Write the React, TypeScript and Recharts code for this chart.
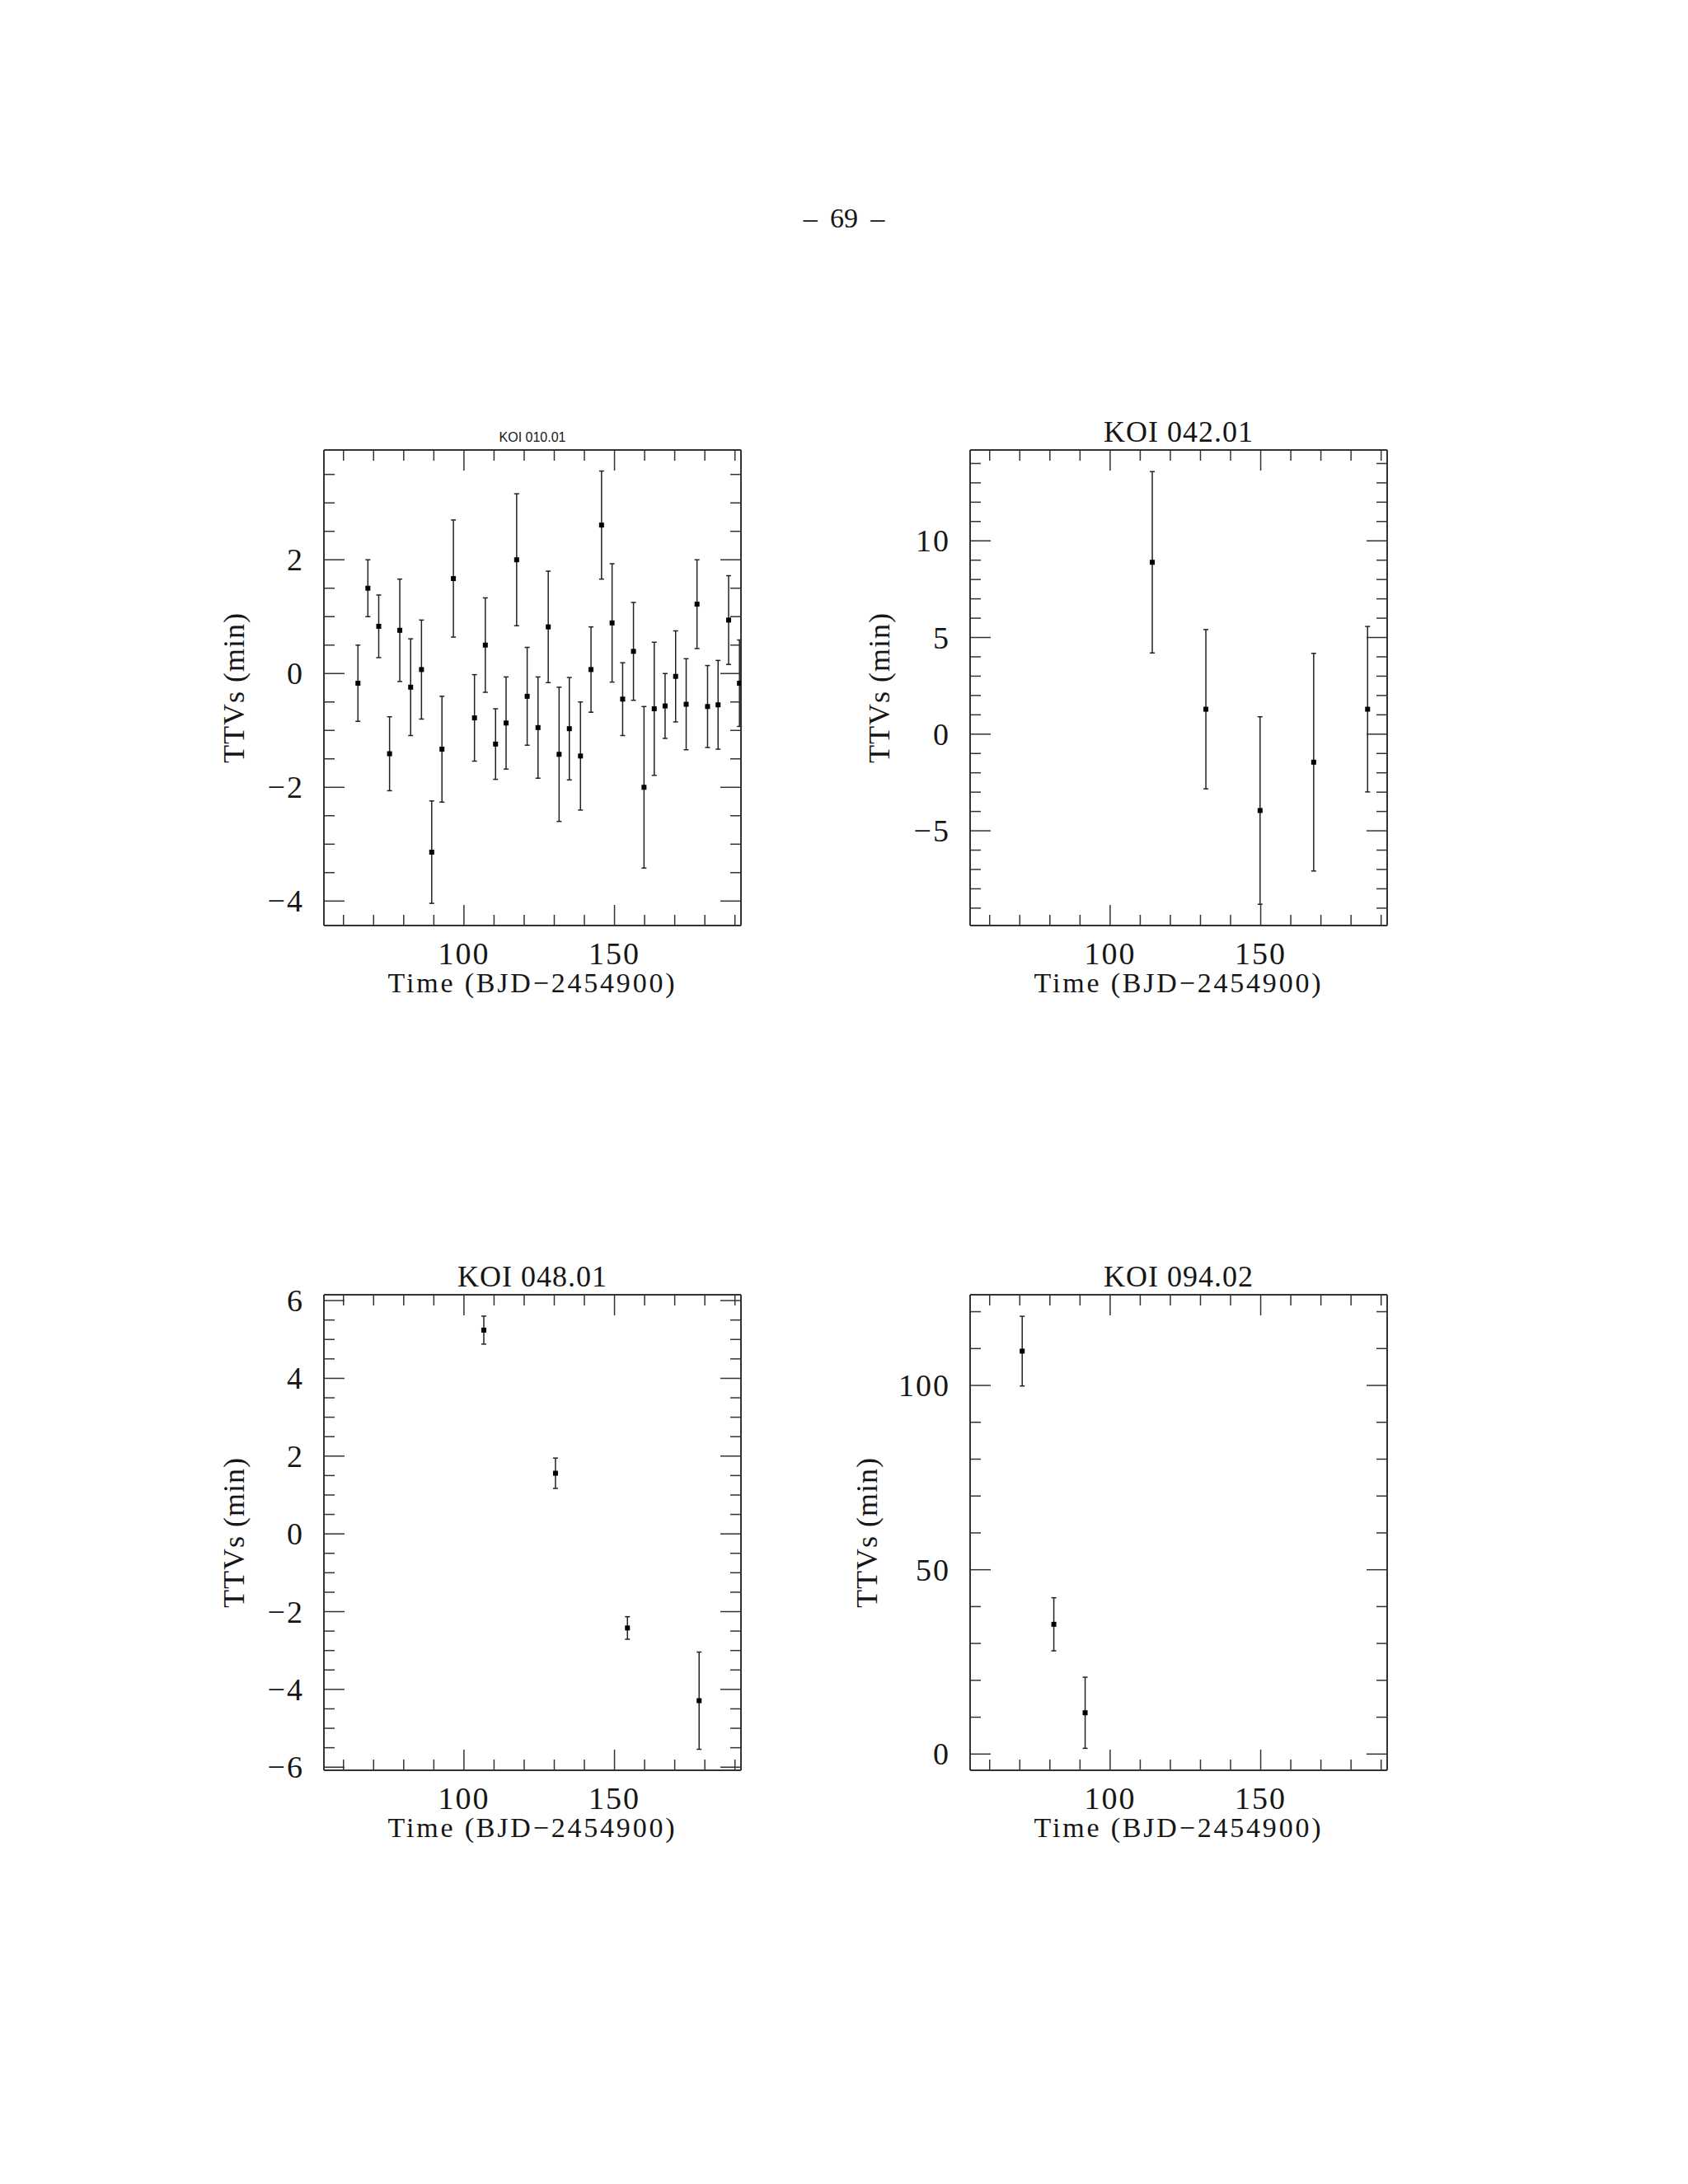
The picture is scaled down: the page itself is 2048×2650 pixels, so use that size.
import { ScatterChart, Scatter, XAxis, YAxis, ErrorBar } from 'recharts'

// shared time axis (BJD-2454900)
const timeTicks = [100, 150]
const timeMinorTicks = [60, 70, 80, 90, 100, 110, 120, 130, 140, 150, 160, 170, 180, 190]

// KOI 010.01
const koi010Time = [64.8, 68.1, 71.7, 75.3, 78.7, 82.3, 85.9, 89.3, 92.7, 96.5, 103.5, 107.1, 110.5, 114.0, 117.5, 121.0, 124.6, 128.0, 131.6, 135.0, 138.7, 142.2, 145.7, 149.2, 152.7, 156.3, 159.8, 163.2, 166.8, 170.3, 173.8, 177.4, 180.9, 184.4, 187.9, 191.5]
const koi010Ttv = [-0.17, 1.5, 0.83, -1.41, 0.76, -0.24, 0.07, -3.14, -1.33, 1.67, -0.78, 0.5, -1.24, -0.87, 2.0, -0.4, -0.95, 0.82, -1.42, -0.97, -1.45, 0.07, 2.61, 0.89, -0.45, 0.39, -2.0, -0.62, -0.57, -0.05, -0.54, 1.22, -0.58, -0.55, 0.94, -0.17]
const koi010Err = [0.67, 0.5, 0.55, 0.65, 0.9, 0.85, 0.87, 0.9, 0.93, 1.03, 0.76, 0.83, 0.62, 0.81, 1.16, 0.86, 0.89, 0.98, 1.18, 0.9, 0.95, 0.75, 0.95, 1.04, 0.64, 0.86, 1.42, 1.17, 0.57, 0.8, 0.8, 0.78, 0.72, 0.78, 0.78, 0.76]
const koi010Ticks = [-4, -2, 0, 2]
const koi010Minor = [-4, -3.5, -3, -2.5, -2, -1.5, -1, -0.5, 0, 0.5, 1, 1.5, 2, 2.5, 3, 3.5]

// KOI 042.01
const koi042Time = [114.0, 131.8, 149.8, 167.6, 185.5]
const koi042Ttv = [8.89, 1.29, -3.95, -1.45, 1.29]
const koi042Err = [4.69, 4.12, 4.85, 5.63, 4.28]
const koi042Ticks = [-5, 0, 5, 10]
const koi042Minor = [-9, -8, -7, -6, -5, -4, -3, -2, -1, 0, 1, 2, 3, 4, 5, 6, 7, 8, 9, 10, 11, 12, 13, 14]

// KOI 048.01
const koi048Time = [106.6, 130.4, 154.3, 178.1]
const koi048Ttv = [5.24, 1.56, -2.42, -4.29]
const koi048Err = [0.36, 0.39, 0.29, 1.25]
const koi048Ticks = [-6, -4, -2, 0, 2, 4, 6]
const koi048Minor = [-6, -5.5, -5, -4.5, -4, -3.5, -3, -2.5, -2, -1.5, -1, -0.5, 0, 0.5, 1, 1.5, 2, 2.5, 3, 3.5, 4, 4.5, 5, 5.5, 6]

// KOI 094.02
const koi094Time = [70.8, 81.3, 91.7]
const koi094Ttv = [109.3, 35.2, 11.2]
const koi094Err = [9.45, 7.2, 9.65]
const koi094Ticks = [0, 50, 100]
const koi094Minor = [0, 10, 20, 30, 40, 50, 60, 70, 80, 90, 100, 110, 120]

const SERIF = '"Liberation Serif", "Times New Roman", serif'
const SANS = '"Liberation Sans", Arial, sans-serif'
const INK = '#161616'
const FRAME = '#333'
const X_DOMAIN: [number, number] = [53.5, 192]

const BOX_W = 506
const BOX_H = 577
// one 1px axis per side, so the plot box sits 1px inside these margins
const M = { top: 79, right: 39, bottom: 119, left: 159 }

const MAJOR_LEN = 25
const MINOR_LEN = 13

const fmt = (v: number) => (v < 0 ? `\u2212${Math.abs(v)}` : `${v}`)

const tickText = { fontFamily: SERIF, fontSize: 38, fill: INK, letterSpacing: 2 }

function Square(props: any) {
  const { cx, cy } = props
  if (cx == null || cy == null) return null
  return <rect x={cx - 3} y={cy - 3} width={6} height={6} fill="#000" />
}

// bottom-axis tick: inward mark at the bottom and the matching one at the top of the box
function timeTick(props: any) {
  const { x, y, payload } = props
  const major = timeTicks.includes(payload.value)
  const len = major ? MAJOR_LEN : MINOR_LEN
  return (
    <g>
      <line x1={x} x2={x} y1={y} y2={y - len} stroke={FRAME} strokeWidth={1.5} />
      <line x1={x} x2={x} y1={y - BOX_H} y2={y - BOX_H + len} stroke={FRAME} strokeWidth={1.5} />
      {major && (
        <text x={x} y={y + 47} textAnchor="middle" style={tickText}>{fmt(payload.value)}</text>
      )}
    </g>
  )
}

// left-axis tick: inward mark on the left and the matching one on the right side
const ttvTick = (majors: number[]) => (props: any) => {
  const { x, y, payload } = props
  const major = majors.includes(payload.value)
  const len = major ? MAJOR_LEN : MINOR_LEN
  return (
    <g>
      <line x1={x} x2={x + len} y1={y} y2={y} stroke={FRAME} strokeWidth={1.5} />
      <line x1={x + BOX_W} x2={x + BOX_W - len} y1={y} y2={y} stroke={FRAME} strokeWidth={1.5} />
      {major && (
        <text x={x - 24} y={y + 13} textAnchor="end" style={tickText}>{fmt(payload.value)}</text>
      )}
    </g>
  )
}

interface PanelProps {
  left: number
  top: number
  title: string
  sansTitle?: boolean
  time: number[]
  ttv: number[]
  err: number[]
  yDomain: [number, number]
  yTicks: number[]
  yMinor: number[]
  yLabelGap: number
}

function Panel({ left, top, title, sansTitle, time, ttv, err, yDomain, yTicks, yMinor, yLabelGap }: PanelProps) {
  const data = time.map((t, i) => ({ t, v: ttv[i], e: err[i] }))

  const titleLabel = (p: any) => {
    const vb = p.viewBox
    return (
      <text
        x={vb.x + vb.width / 2}
        y={vb.y + vb.height - 10}
        textAnchor="middle"
        style={sansTitle
          ? { fontFamily: SANS, fontSize: 16, fill: INK }
          : { fontFamily: SERIF, fontSize: 36, fill: INK, letterSpacing: 1 }}
      >
        {title}
      </text>
    )
  }
  const xLabel = (p: any) => {
    const vb = p.viewBox
    return (
      <text x={vb.x + vb.width / 2} y={vb.y + 81} textAnchor="middle"
        style={{ fontFamily: SERIF, fontSize: 34, fill: INK, letterSpacing: 2.8 }}>
        Time (BJD{'\u2212'}2454900)
      </text>
    )
  }
  const yLabel = (p: any) => {
    const vb = p.viewBox
    const x = vb.x + vb.width - yLabelGap
    const y = vb.y + vb.height / 2
    return (
      <text x={x} y={y} textAnchor="middle" transform={`rotate(-90, ${x}, ${y})`}
        style={{ fontFamily: SERIF, fontSize: 36, fill: INK, letterSpacing: 1 }}>
        TTVs (min)
      </text>
    )
  }

  const frame = { stroke: FRAME, strokeWidth: 2 }

  return (
    <div style={{ position: 'absolute', left: left - 160, top: top - 80 }}>
      <ScatterChart width={BOX_W + 200} height={BOX_H + 200} margin={M}>
        <XAxis xAxisId="b" type="number" dataKey="t" domain={X_DOMAIN} allowDataOverflow
          orientation="bottom" height={1} ticks={timeMinorTicks} interval={0} tickSize={0} tickMargin={0}
          axisLine={frame} tickLine={false} tick={timeTick} label={xLabel} />
        <XAxis xAxisId="t" type="number" domain={X_DOMAIN} allowDataOverflow orientation="top"
          height={1} ticks={timeTicks} interval={0} axisLine={frame} tickLine={false} tick={false}
          label={titleLabel} />

        <YAxis yAxisId="l" type="number" dataKey="v" domain={yDomain} allowDataOverflow orientation="left"
          width={1} ticks={yMinor} interval={0} tickSize={0} tickMargin={0}
          axisLine={frame} tickLine={false} tick={ttvTick(yTicks)} label={yLabel} />
        <YAxis yAxisId="r" type="number" domain={yDomain} allowDataOverflow orientation="right"
          width={1} ticks={yTicks} interval={0} axisLine={frame} tickLine={false} tick={false} />

        <Scatter xAxisId="b" yAxisId="l" data={data} shape={Square} isAnimationActive={false}>
          <ErrorBar dataKey="e" direction="y" width={3} stroke="#222" strokeWidth={1.5} isAnimationActive={false} />
        </Scatter>
      </ScatterChart>
    </div>
  )
}

export default function App() {
  return (
    <div style={{ position: 'absolute', left: 0, top: 0, width: 2048, height: 2650, background: '#fff' }}>
      <div style={{ position: 'absolute', left: 0, width: 2048, top: 246, textAlign: 'center',
        fontFamily: SERIF, fontSize: 34, color: INK }}>
        {'\u2013 \u200969\u2009 \u2013'}
      </div>
      <Panel left={393} top={546} title="KOI 010.01" sansTitle time={koi010Time} ttv={koi010Ttv}
        err={koi010Err} yDomain={[-4.43, 3.93]} yTicks={koi010Ticks} yMinor={koi010Minor} yLabelGap={97} />
      <Panel left={1177} top={546} title="KOI 042.01" time={koi042Time} ttv={koi042Ttv}
        err={koi042Err} yDomain={[-9.9, 14.7]} yTicks={koi042Ticks} yMinor={koi042Minor} yLabelGap={98} />
      <Panel left={393} top={1571} title="KOI 048.01" time={koi048Time} ttv={koi048Ttv}
        err={koi048Err} yDomain={[-6.08, 6.15]} yTicks={koi048Ticks} yMinor={koi048Minor} yLabelGap={97} />
      <Panel left={1177} top={1571} title="KOI 094.02" time={koi094Time} ttv={koi094Ttv}
        err={koi094Err} yDomain={[-4.4, 124.6]} yTicks={koi094Ticks} yMinor={koi094Minor} yLabelGap={113} />
    </div>
  )
}
